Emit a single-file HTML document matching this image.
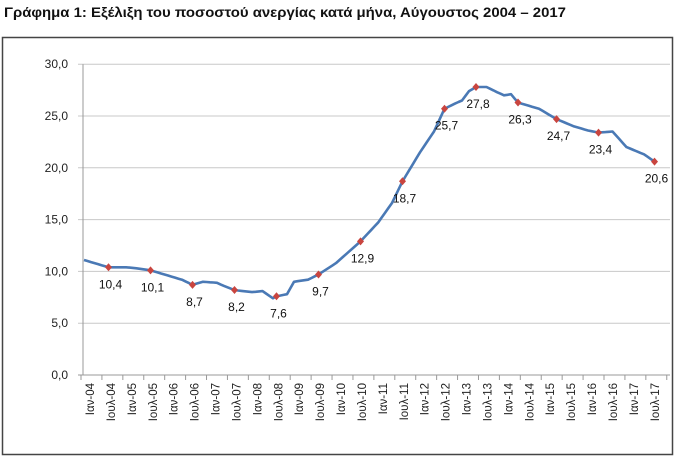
<!DOCTYPE html>
<html><head><meta charset="utf-8"><style>
body{margin:0;background:#fff;width:700px;height:457px;overflow:hidden}
svg{display:block}
text{font-family:"Liberation Sans",sans-serif}
</style></head><body>
<svg width="700" height="457" viewBox="0 0 700 457">
<text x="4" y="17" font-size="13.5" font-weight="bold" fill="#111" textLength="562" lengthAdjust="spacingAndGlyphs">Γράφημα 1: Εξέλιξη του ποσοστού ανεργίας κατά μήνα, Αύγουστος 2004 – 2017</text>
<rect x="2.5" y="37.5" width="670" height="417" fill="#fff" stroke="#444" stroke-width="1.5"/>
<g id="grid" stroke="#bdbdbd" stroke-width="1"></g>
<g id="ylab" font-size="12" fill="#222" text-anchor="end"></g>
<g id="xlab" font-size="11.5" fill="#222"></g>
<polyline id="line" fill="none" stroke="#4a79b5" stroke-width="2.6" stroke-linejoin="round"/>
<g id="marks"></g>
<g id="dl" font-size="12" fill="#111" text-anchor="middle"></g>
</svg>
<script>
var NS="http://www.w3.org/2000/svg";
function el(t,a,p,txt){var e=document.createElementNS(NS,t);for(var k in a)e.setAttribute(k,a[k]);if(txt!==undefined)e.textContent=txt;document.getElementById(p).appendChild(e);return e;}
function Y(v){return 375-v*10.36;}
function X(m){return 84+m*3.5;}
for(var i=0;i<=6;i++){var y=Y(i*5);
 el('line',{x1:78,x2:670,y1:y,y2:y,stroke:i==0?'#999':'#c8c8c8'},'grid');
 el('text',{x:68,y:y+4},'ylab',(i*5).toFixed(1).replace('.',','));}
el('line',{x1:83,x2:83,y1:Y(30),y2:Y(0),stroke:'#999'},'grid');
var yrs=['04','05','06','07','08','09','10','11','12','13','14','15','16','17'];
for(var i=0;i<=28;i++){var x=81+i*20.92;
 el('line',{x1:x,x2:x,y1:375,y2:380,stroke:'#999'},'grid');
 if(i<28){var lab=(i%2==0?'Ιαν-':'Ιουλ-')+yrs[Math.floor(i/2)];
 el('text',{x:0,y:0,transform:'translate('+(94+i*20.92)+',383) rotate(-90)','text-anchor':'end'},'xlab',lab);}}
var a=[[0,11.1],[3,10.8],[7,10.4],[12,10.4],[15,10.3],[19,10.1],[24,9.6],[28,9.2],[31,8.7],[34,9.0],[38,8.9],[40,8.6],[43,8.2],[48,8.0],[51,8.1],[54,7.4],[55,7.6],[58,7.8],[60,9.0],[64,9.2],[67,9.7],[72,10.8],[79,12.9],[84,14.7],[88,16.6],[91,18.7],[96,21.5],[100,23.5],[103,25.7],[106,26.2],[108,26.5],[110,27.4],[112,27.8],[115,27.8],[118,27.3],[120,27.0],[122,27.1],[124,26.3],[127,26.0],[130,25.7],[135,24.7],[140,24.0],[144,23.6],[147,23.4],[151,23.5],[155,22.0],[160,21.3],[163,20.6]];
var pts=[];
for(var k=0;k<a.length-1;k++){var m0=a[k][0],v0=a[k][1],m1=a[k+1][0],v1=a[k+1][1];
 for(var m=m0;m<m1;m++){var v=v0+(v1-v0)*(m-m0)/(m1-m0);pts.push(X(m).toFixed(1)+','+Y(v).toFixed(1));}}
pts.push(X(163)+','+Y(20.6));
document.getElementById('line').setAttribute('points',pts.join(' '));
var mk=[[7,10.4],[19,10.1],[31,8.7],[43,8.2],[55,7.6],[67,9.7],[79,12.9],[91,18.7],[103,25.7],[112,27.8],[124,26.3],[135,24.7],[147,23.4],[163,20.6]];
mk.forEach(function(p){var x=X(p[0]),y=Y(p[1]);
 el('path',{d:'M'+x+','+(y-4)+'L'+(x+3.5)+','+y+'L'+x+','+(y+4)+'L'+(x-3.5)+','+y+'Z',fill:'#c9453f'},'marks');
 el('text',{x:x+2,y:y+21},'dl',p[1].toFixed(1).replace('.',','));});
</script>
</body></html>
